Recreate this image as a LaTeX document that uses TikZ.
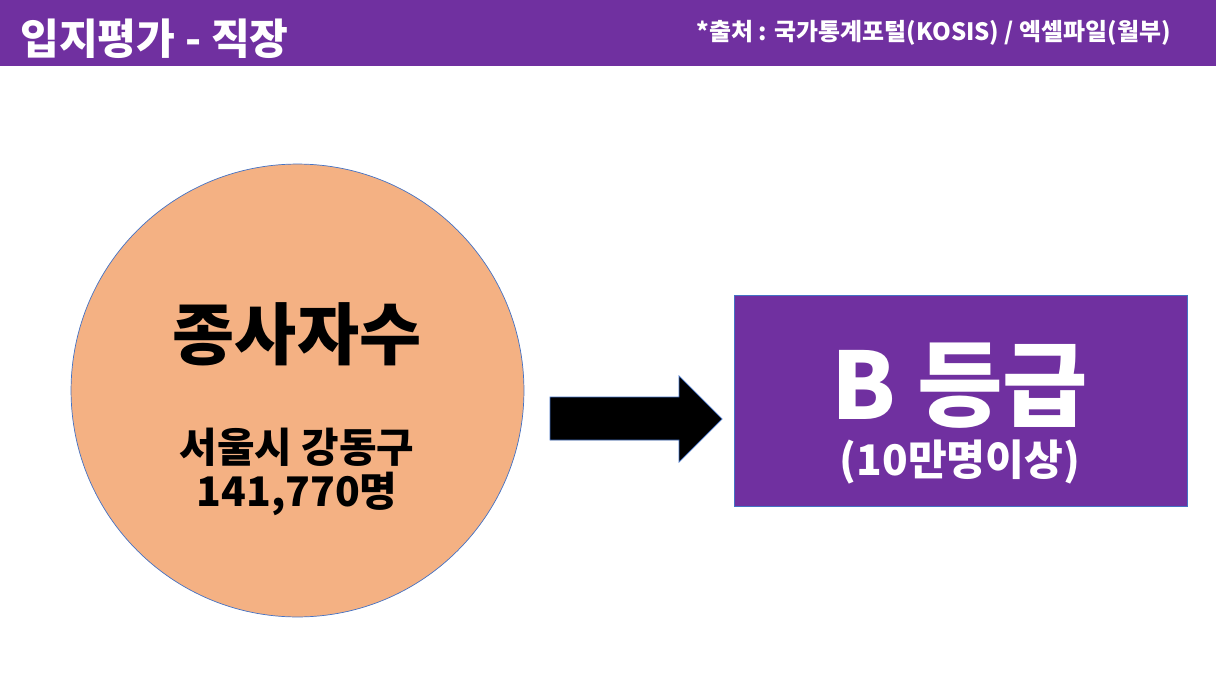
\documentclass[tikz,border=0pt]{standalone}
\usepackage{fontspec}
\setmainfont{Noto Sans CJK KR}
\usepackage{tikz}
\usetikzlibrary{positioning}
\definecolor{hdrpurple}{HTML}{7030A0}
\definecolor{peach}{HTML}{F4B183}
\definecolor{edgeblue}{HTML}{4472C4}
\tikzset{
  hdrtxt/.style={text=white,font=\bfseries\fontsize{#1}{#1}\selectfont},
  bodytxt/.style={font=\bfseries\fontsize{#1}{#1}\selectfont},
}

\begin{document}
\begin{tikzpicture}[x=0.025cm,y=-0.025cm,every node/.style={inner sep=0pt}]
      \useasboundingbox (0,0) rectangle (1216,684);
      % header bar
      \fill[hdrpurple] (0,0) rectangle (1216,66);
      \node [anchor=west,hdrtxt=30] (title) at (20,38.5) {입지평가 - 직장};
      \node [anchor=east,hdrtxt=17] (source) at (1171,33) {*출처 : 국가통계포털(KOSIS) / 엑셀파일(월부)};
      % circle
      \node [circle,fill=peach,draw=edgeblue,line width=0.5pt,minimum size=11.32cm] (jobs) at (297.5,390.5) {};
      \node [bodytxt=48] (jobsname) at (297,334) {종사자수};
      \node [bodytxt=29] (district) at (297,447) {서울시 강동구};
      \node [bodytxt=29] (count) at (297,494) {141,770명};
      % arrow
      \draw[edgeblue,line width=0.5pt,fill=black] (550,397)--(679,397)--(679,376)--(722,419)--(679,462)--(679,440)--(550,440)--cycle;
      % grade box
      \node [fill=hdrpurple,draw=edgeblue,line width=0.5pt,minimum width=11.32cm,minimum height=5.27cm] (grade) at (960.5,400.5) {};
      \node [hdrtxt=66] (gradename) at (960,386) {B 등급};
      \node [hdrtxt=30] (gradenote) at (960,462) {(10만명이상)};
\end{tikzpicture}
\end{document}
